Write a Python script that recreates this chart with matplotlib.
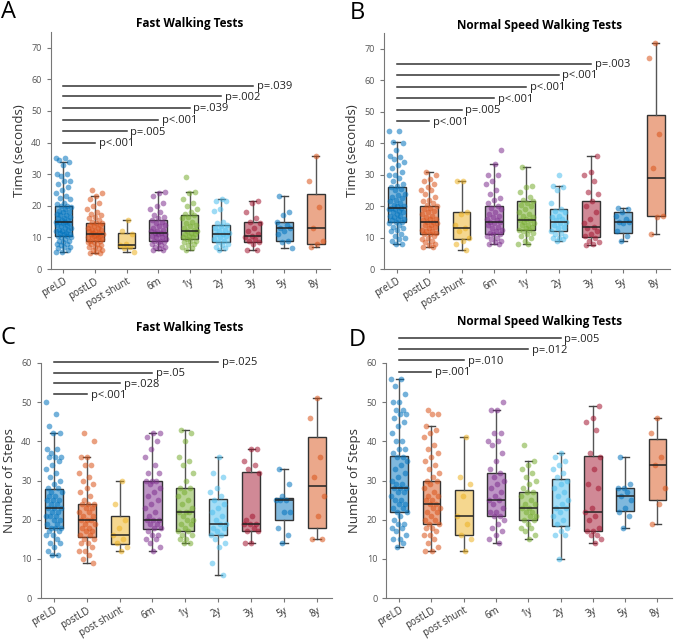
import numpy as np
import matplotlib
matplotlib.use("Agg")
import matplotlib.pyplot as plt

plt.rcParams['font.family'] = ['Open Sans', 'DejaVu Sans']

groups = ["preLD", "postLD", "post shunt", "6m", "1y", "2y", "3y", "5y", "8y"]
colors = ["#0072BD", "#D95319", "#EDB120", "#7E2F8E", "#77AC30",
          "#4DBEEE", "#A2142F", "#0072BD", "#D95319"]

# ---- A: fast walking, time (s) ----
a_whislo = [5.5, 5, 5.5, 6, 6, 6, 6, 6.5, 7]
a_q1 = [10.5, 8.8, 6.8, 8.8, 9.5, 8.5, 8.5, 8.8, 8]
a_med = [15, 11, 7.5, 11.5, 12, 11, 10.5, 13, 13]
a_q3 = [20, 14.5, 11.3, 15.5, 17, 14, 15, 15, 23.7]
a_whishi = [34, 23, 15.5, 24.5, 24.5, 22, 21.5, 23, 35.8]
a_points = [
    [35, 35, 34.5, 34, 33, 30, 30, 29.5, 28, 28, 27, 26, 25, 24, 23, 22.5, 22, 21, 20.5, 20, 20, 19.5, 19,
     18.5, 18, 18, 17.5, 17, 17, 16.5, 16, 16, 15.5, 15.5, 15, 15, 15, 14.5, 14.5, 14, 14, 13.5, 13, 13,
     12.5, 12.5, 12, 12, 11.5, 11.5, 11, 11, 10.5, 10.5, 10, 10, 9.5, 9, 9, 8.5, 8, 8, 7.5, 7, 7, 6.5, 6,
     5.5, 5.5],
    [25, 24, 23, 22, 21, 20, 19, 18, 17.5, 17, 16.5, 16, 15.5, 15, 14.5, 14.5, 14, 14, 13.5, 13, 13, 12.5,
     12.5, 12, 12, 11.5, 11.5, 11, 11, 11, 10.5, 10.5, 10, 10, 10, 9.5, 9.5, 9, 9, 8.5, 8.5, 8, 8, 7.5, 7,
     7, 6.5, 6, 6, 5.5, 5, 5],
    [15.5, 12, 11, 8, 7.5, 7, 6.5, 5.5],
    [24.5, 24, 23, 21, 20, 19, 18, 17, 16.5, 16, 15.5, 15, 14.5, 14, 13.5, 13, 12.5, 12, 12, 11.5, 11.5,
     11, 11, 10.5, 10, 10, 9.5, 9, 9, 8.5, 8.5, 8, 7.5, 7, 7, 6.5, 6, 6],
    [29, 24.5, 24, 22, 21, 20, 19, 18, 17.5, 17, 16.5, 16, 15, 14.5, 14, 13.5, 13, 12.5, 12, 12, 11.5, 11,
     11, 10.5, 10, 10, 9.5, 9, 9, 8.5, 8, 7.5, 7, 6.5, 6],
    [22, 21.5, 21.5, 19, 18.5, 15, 14.5, 14, 13.5, 13, 12.5, 12, 11.5, 11, 11, 10.5, 10, 9.5, 9, 8.5, 8,
     7.5, 7, 6.5, 6],
    [21.5, 21, 18, 16, 15, 14.5, 13, 12, 11, 10.5, 10, 9.5, 9, 8.5, 8, 6, 6],
    [23, 18, 17, 15, 14, 13, 13, 12, 11, 9, 8.5, 6.5],
    [35.8, 28, 19.5, 13, 9, 8, 7],
]
a_pvals = ["p<.001", "p=.005", "p<.001", "p=.039", "p=.002", "p=.039"]
a_pend = [2, 3, 4, 5, 6, 7]
a_py = [40, 43.6, 47.3, 51, 54.6, 58]

# ---- B: normal speed, time (s) ----
b_whislo = [8, 7, 6, 7.8, 8, 9, 7.5, 9, 11]
b_q1 = [15, 11, 9.5, 11, 12.5, 12, 10.3, 11.5, 17]
b_med = [19.3, 15, 13, 15, 15.5, 15, 13.5, 15, 29]
b_q3 = [26, 20, 18, 20, 21.5, 19, 21.7, 18, 49]
b_whishi = [40.3, 31, 28, 33.5, 32.3, 26.5, 36, 19.5, 72]
b_points = [
    [44, 44, 40.3, 40, 38, 36, 35.5, 35, 34, 33, 32, 31, 30, 30, 29, 28, 27, 26.5, 26, 25.5, 25, 24, 23.5,
     23, 22.5, 22, 21.5, 21, 20.5, 20, 20, 19.5, 19.5, 19, 19, 18.5, 18, 18, 17.5, 17, 17, 16.5, 16, 16,
     15.5, 15, 15, 14.5, 14, 13.5, 13, 12.5, 12, 11, 10.5, 10, 9.5, 9, 8, 8],
    [31, 30, 28.5, 28, 27, 26, 25, 25, 24, 23, 22, 21.5, 21, 20.5, 20, 19.5, 19, 18.5, 18, 17.5, 17, 16.5,
     16, 16, 15.5, 15, 15, 14.5, 14, 14, 13.5, 13, 12.5, 12, 12, 11.5, 11, 11, 10.5, 10, 9.5, 9, 8.5, 8,
     7.5, 7, 7],
    [28, 28, 18, 17.5, 14, 13, 12, 10, 9, 8, 6],
    [38, 33.5, 30, 30, 28, 27, 25, 24, 22.5, 22, 21, 20, 19.5, 19, 18, 17.5, 17, 16.5, 16, 15.5, 15, 15,
     14.5, 14, 13.5, 13, 12.5, 12, 11.5, 11, 11, 10.5, 10, 9.5, 9, 8.5, 8, 7.8],
    [32.3, 26.5, 26, 24.5, 23, 22, 21.5, 21, 20.5, 20, 19, 18, 17.5, 17, 16.5, 16, 15.5, 15.5, 15, 14.5,
     14, 14, 13.5, 13, 12.5, 12.5, 12, 11.5, 11, 10.5, 10, 9, 8, 8],
    [30, 26.5, 26, 25, 21, 19, 18.5, 18, 17, 16.5, 16, 15.5, 15, 14.5, 14, 13.5, 13, 12, 11.5, 11, 10.5,
     10, 10, 9.5, 9],
    [36, 31, 30, 28, 24.5, 24, 21.5, 20, 18, 16, 14.5, 13.5, 13, 12, 11, 10.5, 10, 9, 8.5, 8, 7.5],
    [19.5, 19, 18, 17, 16, 15, 15, 14.5, 12, 10.5, 9],
    [72, 67, 43, 32, 17, 16.5, 11],
]
b_pvals = ["p<.001", "p=.005", "p<.001", "p<.001", "p<.001", "p=.003"]
b_pend = [2, 3, 4, 5, 6, 7]
b_py = [47, 50.6, 54.3, 58, 61.7, 65.3]

# ---- C: fast walking, number of steps ----
c_whislo = [11, 9, 12, 12, 14, 6, 14, 14, 15]
c_q1 = [18, 15.5, 13.8, 17.7, 17, 16, 17, 20, 18]
c_med = [23, 20, 16, 20, 22, 19, 19, 25, 28.5]
c_q3 = [27.8, 24, 21, 30, 28, 25.3, 32.3, 25.5, 41]
c_whishi = [42, 36, 30, 42, 43, 36, 38, 33, 51]
c_points = [
    [50, 47, 44, 42, 42, 38, 38, 37, 36, 36, 36, 35, 34, 33, 32, 31, 30, 29, 28, 28, 27, 27, 26, 26, 25,
     25, 25, 24, 24, 23, 23, 23, 22, 22, 21, 21, 21, 20, 20, 19, 19, 18, 18, 18, 17, 17, 16, 16, 15, 14,
     14, 13, 12, 11, 11],
    [42, 40, 36, 36, 34, 34, 32, 31, 30, 29, 28, 27, 26, 25, 24, 24, 24, 23, 23, 22, 22, 21, 21, 20, 20,
     20, 19, 19, 18, 18, 17, 17, 16, 16, 15, 15, 14, 14, 13, 12, 12, 11, 10, 9],
    [30, 24, 20, 18, 16, 15, 14, 13, 12],
    [42, 42, 41, 40, 38, 36, 34, 32, 32, 30, 30, 30, 29, 28, 27, 26, 25, 24, 23, 22, 21, 20, 20, 20, 19,
     19, 18, 18, 17, 16, 16, 15, 15, 14, 13, 12],
    [43, 42, 40, 36, 35, 34, 32, 30, 28, 28, 27, 26, 25, 24, 23, 22, 22, 22, 21, 20, 20, 19, 19, 18, 17,
     17, 16, 16, 15, 15, 14, 14],
    [36, 32, 31, 28, 27, 26, 25, 24, 23, 22, 21, 20, 19, 19, 18, 18, 17, 16, 16, 15, 14, 13, 9, 6],
    [38, 38, 35, 34, 33, 32, 21, 20, 19, 19, 19, 18, 17, 17, 14, 14],
    [33, 29, 26, 25, 25, 25, 22, 22, 18, 16, 14],
    [51, 46, 36, 31, 26, 21, 15, 15],
]
c_pvals = ["p<.001", "p=.028", "p=.05", "p=.025"]
c_pend = [2, 3, 4, 6]
c_py = [52, 54.8, 57.5, 60.3]

# ---- D: normal speed, number of steps ----
d_whislo = [13, 12, 12, 14, 15, 10, 14, 18, 19]
d_q1 = [22, 19, 16, 21, 20, 18.3, 17, 22.3, 25]
d_med = [28, 24, 21, 25, 23, 23, 22, 26, 34]
d_q3 = [36.2, 30, 27.5, 32, 27, 30.3, 36.3, 28, 40.5]
d_whishi = [56, 44, 41, 48, 35, 37, 49, 36, 46]
d_points = [
    [56, 56, 54, 52, 50, 50, 48, 48, 47, 47, 46, 45, 44, 42, 40, 40, 38, 38, 37, 36, 36, 35, 34, 33, 32,
     31, 30, 29, 29, 28, 28, 28, 27, 27, 26, 25, 25, 24, 24, 23, 23, 22, 22, 21, 20, 19, 19, 18, 18, 17,
     16, 15, 15, 14, 13],
    [48, 47, 47, 44, 43, 42, 41, 39, 38, 37, 36, 35, 34, 33, 32, 31, 30, 30, 29, 28, 27, 26, 26, 25, 25,
     24, 24, 23, 23, 22, 22, 21, 20, 20, 19, 19, 18, 18, 17, 16, 16, 15, 14, 13, 12, 12],
    [41, 31, 29, 26, 21, 19, 16, 15, 12],
    [50, 48, 48, 42, 42, 40, 40, 39, 37, 35, 33, 32, 31, 30, 29, 28, 27, 26, 25, 25, 24, 23, 22, 22, 21,
     21, 20, 19, 18, 17, 16, 15, 14],
    [39, 35, 34, 33, 32, 31, 30, 29, 28, 27, 27, 26, 25, 24, 24, 23, 23, 22, 22, 21, 21, 20, 20, 19, 18,
     18, 17, 16, 15],
    [37, 36, 35, 34, 33, 32, 31, 30, 29, 28, 27, 26, 25, 24, 23, 23, 22, 21, 20, 19, 18, 17, 16, 16, 10],
    [49, 46, 45, 43, 37, 36, 33, 29, 28, 23, 22, 21, 20, 18, 17, 17, 16, 16, 15, 14],
    [36, 29, 28, 28, 27, 26, 25, 23, 22, 21, 18],
    [46, 42, 36, 34, 28, 24, 19],
]
d_pvals = ["p=.001", "p=.010", "p=.012", "p=.005"]
d_pend = [2, 3, 5, 6]
d_py = [57.8, 60.7, 63.5, 66.3]


def draw_panel(ax, whislo, q1, med, q3, whishi, points, pvals, pend, py, ymax, yticks, ylabel):
    pos = np.arange(1, len(groups) + 1)
    stats = [dict(whislo=whislo[i], q1=q1[i], med=med[i], q3=q3[i], whishi=whishi[i], fliers=[])
             for i in range(len(groups))]
    bp = ax.bxp(stats, positions=pos, widths=0.55, capwidths=0.22, patch_artist=True,
                showfliers=False,
                boxprops=dict(edgecolor="#333333", linewidth=1.0),
                medianprops=dict(color="#222222", linewidth=1.1),
                whiskerprops=dict(color="#555555", linewidth=1.0),
                capprops=dict(color="#444444", linewidth=1.0))
    for patch, c in zip(bp["boxes"], colors):
        patch.set_facecolor(matplotlib.colors.to_rgba(c, 0.5))
        patch.set_zorder(2)
    for m in bp["medians"]:
        m.set_zorder(5)
    # deterministic jitter for the strip points
    for i, vals in enumerate(points):
        k = np.arange(len(vals))
        xs = pos[i] + ((k * 0.6180339 + 0.31 * i) % 1 - 0.5) * 0.5
        ax.scatter(xs, vals, s=17, color=colors[i], alpha=0.55, linewidths=0, zorder=3)
    # significance lines from preLD
    for txt, e, y in zip(pvals, pend, py):
        ax.plot([1, e], [y, y], color="#333333", lw=1.1, clip_on=False, zorder=6)
        ax.text(e + 0.12, y - 0.3, txt, fontsize=8, color="#222222", va="center", ha="left",
                clip_on=False)
    ax.set_xlim(0.6, 9.45)
    ax.set_ylim(0, ymax)
    ax.set_yticks(yticks)
    ax.set_xticks(pos)
    ax.set_xticklabels(groups, rotation=30, ha="right", va="top", rotation_mode="anchor",
                       fontsize=7.0, color="#333333")
    ax.tick_params(axis="y", labelsize=6.5, labelcolor="#555555", color="#777777", length=3)
    ax.tick_params(axis="x", color="#777777", length=3, pad=2)
    for s in ["top", "right"]:
        ax.spines[s].set_visible(False)
    for s in ["left", "bottom"]:
        ax.spines[s].set_color("#777777")
    ax.set_ylabel(ylabel, fontsize=9.5, color="#333333", labelpad=4)


fig = plt.figure(figsize=(6.77, 6.39), dpi=100)
axA = fig.add_axes([0.075, 0.579, 0.4125, 0.371])
axB = fig.add_axes([0.567, 0.579, 0.423, 0.369])
axC = fig.add_axes([0.060, 0.064, 0.430, 0.368])
axD = fig.add_axes([0.5706, 0.064, 0.422, 0.368])

draw_panel(axA, a_whislo, a_q1, a_med, a_q3, a_whishi, a_points, a_pvals, a_pend, a_py,
           75, range(0, 71, 10), "Time (seconds)")
draw_panel(axB, b_whislo, b_q1, b_med, b_q3, b_whishi, b_points, b_pvals, b_pend, b_py,
           75, range(0, 71, 10), "Time (seconds)")
draw_panel(axC, c_whislo, c_q1, c_med, c_q3, c_whishi, c_points, c_pvals, c_pend, c_py,
           60, range(0, 61, 10), "Number of Steps")
draw_panel(axD, d_whislo, d_q1, d_med, d_q3, d_whishi, d_points, d_pvals, d_pend, d_py,
           60, range(0, 61, 10), "Number of Steps")

fig.text(190 / 677, 1 - 24 / 639, "Fast Walking Tests", fontsize=8.5, fontweight="bold",
         ha="center", va="center")
fig.text(540 / 677, 1 - 25 / 639, "Normal Speed Walking Tests", fontsize=8.5, fontweight="bold",
         ha="center", va="center")
fig.text(190 / 677, 1 - 328 / 639, "Fast Walking Tests", fontsize=8.5, fontweight="bold",
         ha="center", va="center")
fig.text(540 / 677, 1 - 321 / 639, "Normal Speed Walking Tests", fontsize=8.5, fontweight="bold",
         ha="center", va="center")

for lbl, x, y in [("A", 1 / 677, 1 - 0 / 639), ("B", 350 / 677, 1 - 1 / 639),
                  ("C", 1 / 677, 1 - 326 / 639), ("D", 349 / 677, 1 - 328 / 639)]:
    fig.text(x, y, lbl, fontsize=17, ha="left", va="top")

fig.savefig("out.png", dpi=100)
